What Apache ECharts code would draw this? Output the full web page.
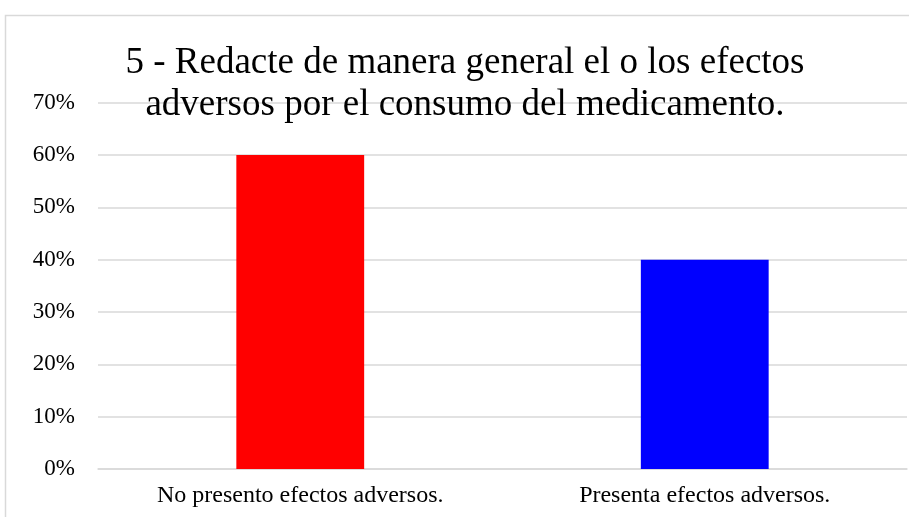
<!DOCTYPE html>
<html>
<head>
<meta charset="utf-8">
<script src="https://cdn.jsdelivr.net/npm/echarts@6/dist/echarts.min.js"></script>
<style>html,body{margin:0;padding:0;background:#fff}#c{width:909px;height:517px}</style>
</head>
<body>
<div id="c"></div>
<script>
var titleText = '5 - Redacte de manera general el o los efectos\nadversos por el consumo del medicamento.';
var categories = ['No presento efectos adversos.', 'Presenta efectos adversos.'];
var values = [0.60, 0.40];
var barColors = ['#ff0000', '#0000ff'];
var yTicks = [0, 0.1, 0.2, 0.3, 0.4, 0.5, 0.6, 0.7];

var chart = echarts.init(document.getElementById('c'));
var font = '"Liberation Serif", "Times New Roman", serif';
chart.setOption({
  animation: false,
  textStyle: { fontFamily: font },
  graphic: [{
    type: 'rect', z: -10,
    shape: { x: 5.5, y: 15.5, width: 960, height: 560 },
    style: { fill: '#fff', stroke: '#d9d9d9', lineWidth: 1.5 }
  }],
  title: {
    text: titleText,
    left: 465, textAlign: 'center',
    top: 37,
    textStyle: { fontFamily: font, fontSize: 37, fontWeight: 'normal', color: '#000', lineHeight: 42 }
  },
  grid: { left: 98, right: 2, top: 102.6, bottom: 48, containLabel: false },
  xAxis: {
    type: 'category',
    data: categories,
    axisTick: { show: false },
    axisLine: { lineStyle: { color: '#d9d9d9', width: 1.5 } },
    axisLabel: { fontFamily: font, fontSize: 24, color: '#000', margin: 15 }
  },
  yAxis: {
    type: 'value',
    min: 0, max: 0.7, interval: 0.1,
    axisLine: { show: false },
    axisTick: { show: false },
    splitLine: { lineStyle: { color: '#d9d9d9', width: 1.5 } },
    axisLabel: {
      fontFamily: font, fontSize: 23, color: '#000', margin: 23,
      formatter: function (v) { return Math.round(v * 100) + '%'; }
    }
  },
  series: [{
    type: 'bar',
    barWidth: '31.6%',
    data: values.map(function (v, i) { return { value: v, itemStyle: { color: barColors[i] } }; })
  }]
});
chart.setOption({ title: { left: 460 } });
</script>
</body>
</html>
